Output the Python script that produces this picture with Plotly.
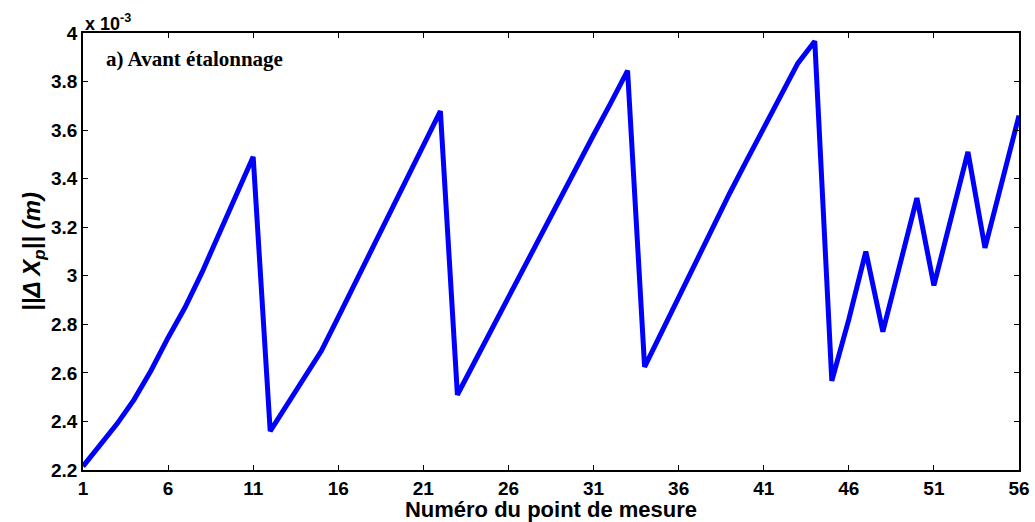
import plotly.graph_objects as go

# Measurement point index
points = list(range(1, 57))
# ||ΔXp|| values in units of 1e-3 m
dx_vals = [
    2.215, 2.305, 2.39, 2.49, 2.61, 2.745, 2.87, 3.015, 3.17, 3.33, 3.49,
    2.36, 2.47, 2.575, 2.69, 2.83, 2.97, 3.11, 3.255, 3.40, 3.54, 3.678,
    2.51, 2.645, 2.775, 2.91, 3.04, 3.175, 3.31, 3.445, 3.58, 3.71, 3.845,
    2.625, 2.77, 2.915, 3.06, 3.20, 3.34, 3.475, 3.61, 3.745, 3.875, 3.966,
    2.567, 2.82, 3.10, 2.77, 3.04, 3.32, 2.96, 3.23, 3.51, 3.115, 3.39, 3.66,
]
x_ticks = list(range(1, 57, 5))
y_ticks = [2.2, 2.4, 2.6, 2.8, 3.0, 3.2, 3.4, 3.6, 3.8, 4.0]
y_tick_labels = ["2.2", "2.4", "2.6", "2.8", "3", "3.2", "3.4", "3.6", "3.8", "4"]

fig = go.Figure()
fig.add_trace(go.Scatter(
    x=points, y=dx_vals, mode="lines",
    line=dict(color="#0000FF", width=5),
    showlegend=False,
))

tickfont = dict(family="Liberation Sans, Arial", size=19, color="black", weight="bold")

fig.update_layout(
    width=1035, height=522,
    margin=dict(l=83, r=16, t=33, b=52),
    paper_bgcolor="white", plot_bgcolor="white",
    xaxis=dict(
        range=[1, 56], tickvals=x_ticks, ticks="inside", ticklen=5,
        tickcolor="black", showline=True, linecolor="black", linewidth=1.5,
        mirror="ticks", showgrid=False, zeroline=False, tickfont=tickfont,
        automargin=False,
        title=dict(text="Numéro du point de mesure", standoff=2,
                   font=dict(family="Liberation Sans, Arial", size=22, color="black", weight="bold")),
    ),
    yaxis=dict(
        range=[2.2, 4.0], tickvals=y_ticks, ticktext=y_tick_labels, ticks="inside", ticklen=5,
        tickcolor="black", showline=True, linecolor="black", linewidth=1.5,
        mirror="ticks", showgrid=False, zeroline=False, tickfont=tickfont,
        automargin=False,
        title=dict(text="<i>||Δ X<sub>p</sub>|| (m)</i>", standoff=4,
                   font=dict(family="Liberation Sans, Arial", size=24, color="black", weight="bold")),
    ),
)

fig.add_annotation(
    x=0, y=1, xref="paper", yref="paper", xanchor="left", yanchor="bottom",
    text="x 10<sup>-3</sup>", showarrow=False, yshift=-3,
    font=dict(family="Liberation Sans, Arial", size=18, color="black", weight="bold"),
)
fig.add_annotation(
    x=0.022, y=0.94, xref="paper", yref="paper", xanchor="left", yanchor="middle",
    text="a) Avant étalonnage", showarrow=False,
    font=dict(family="Liberation Serif, Times New Roman", size=21, color="black", weight="bold"),
)

fig.write_html("out.html")
